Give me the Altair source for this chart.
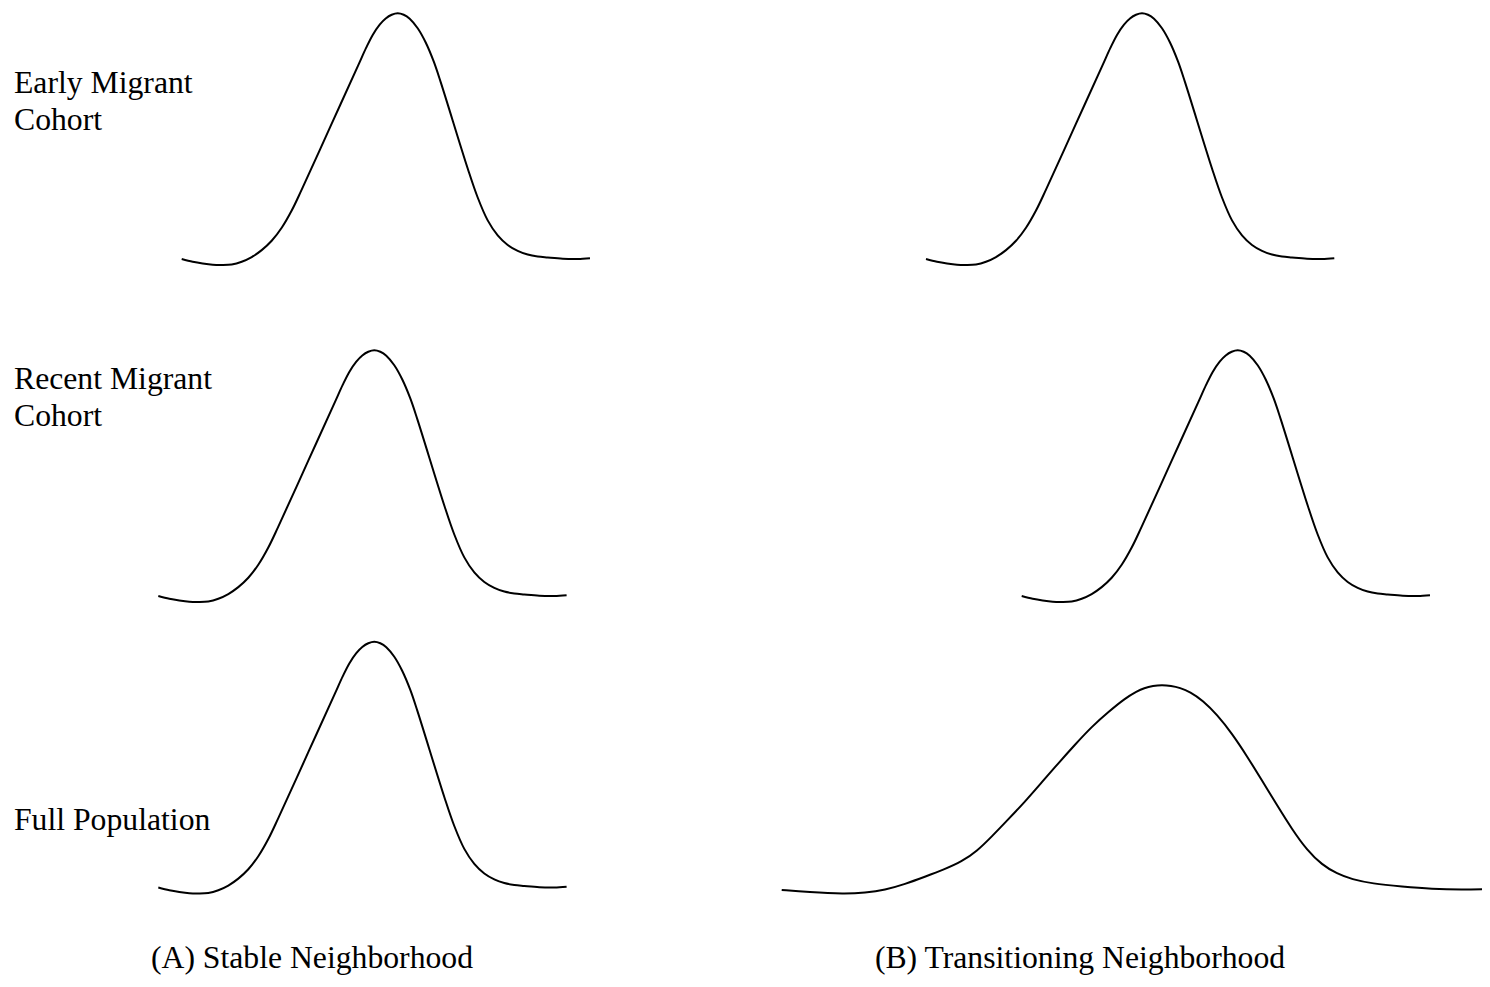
import altair as alt
import pandas as pd

# ---- data -----------------------------------------------------------------
# shape of a narrow cohort distribution: offset from its mode (score units) and relative density
NARROW_DX = [-21.6, -20.5, -19.5, -18.5, -17.6, -16.6, -15.6, -14.6, -13.6, -12.6, -11.6, -10.6,
             -9.6, -6.6, -3.94, -3.16, -2.5, -1.8, -1.2, -0.6, 0.0, 0.6, 1.2, 2.0, 2.8, 3.6,
             4.3, 7.0, 8.0, 9.0, 10.0, 11.0, 12.0, 13.0, 14.0, 15.0, 16.5, 18.0, 19.23]
NARROW_H = [0.0, -0.011, -0.018, -0.023, -0.024, -0.022, -0.011, 0.008, 0.036, 0.074, 0.127,
            0.197, 0.282, 0.55, 0.788, 0.858, 0.911, 0.953, 0.978, 0.993, 0.999, 0.993, 0.977,
            0.938, 0.88, 0.803, 0.719, 0.368, 0.25, 0.157, 0.096, 0.057, 0.033, 0.018, 0.010,
            0.006, 0.001, 0.0, 0.003]

# shape of the wide (mixed) full-population distribution in the transitioning neighborhood
WIDE_DX = [-38.03, -35.37, -31.7, -29.7, -27.7, -25.7, -23.7, -21.8, -20.03, -18.5, -17.03,
           -15.5, -13.7, -12.0, -10.37, -8.7, -7.03, -5.3, -3.7, -2.5, -1.8, -0.9, 0.0, 0.9,
           1.8, 2.8, 4.1, 5.5, 7.0, 8.5, 10.0, 11.5, 13.0, 14.5, 16.0, 17.5, 19.0, 21.0, 24.0,
           27.0, 30.0, 32.63]
WIDE_H = [-0.004, -0.013, -0.020, -0.015, -0.004, 0.020, 0.050, 0.079, 0.111, 0.154, 0.213,
          0.278, 0.355, 0.435, 0.511, 0.587, 0.660, 0.722, 0.775, 0.804, 0.817, 0.826, 0.829,
          0.826, 0.818, 0.802, 0.766, 0.709, 0.632, 0.540, 0.441, 0.341, 0.243, 0.158, 0.098,
          0.062, 0.039, 0.022, 0.010, 0.0, -0.003, 0.0]

ROW_LABELS = [["Early Migrant", "Cohort"], ["Recent Migrant", "Cohort"], ["Full Population"]]
COLUMN_TITLES = ["(A) Stable Neighborhood", "(B) Transitioning Neighborhood"]

# modes of each distribution (score units) per neighborhood, rows: early, recent, full
MODES_A = [38.97, 36.63, 36.63]
MODES_B = [43.4, 52.97, 45.4]
SHAPES_A = ["narrow", "narrow", "narrow"]
SHAPES_B = ["narrow", "narrow", "wide"]

# ---- layout (not data) ------------------------------------------------------
FONT = "Liberation Serif"
FS = 31.7
PX_PER_UNIT = 246.0             # pixels per unit of relative density
ROW_TOPS = [0, 292, 622]        # panel tops relative to chart origin
ROW_H = [292, 330, 280]
ROW_LEVEL = [251, 588, 879.5]   # y of zero density relative to chart origin
LEVEL_B3 = 881.0
COL_W = [700, 774]
COL_DOMAIN = [70.0, 77.4]
LABEL_Y = [85.3, 89.3, 200.0]   # first-line baseline in each panel
TITLE_DX = [-46, -15]


def curve_frame(shape, mode):
    dx, h = (NARROW_DX, NARROW_H) if shape == "narrow" else (WIDE_DX, WIDE_H)
    return pd.DataFrame({"score": [mode + d for d in dx], "density": h})


def panel(col, row, shape, mode):
    level = ROW_LEVEL[row] if not (col == 1 and row == 2) else LEVEL_B3
    top = ROW_TOPS[row]
    hi = (level - top) / PX_PER_UNIT
    lo = hi - ROW_H[row] / PX_PER_UNIT
    line = alt.Chart(curve_frame(shape, mode)).mark_line(
        color="black", strokeWidth=2,
        interpolate="catmull-rom" if shape == "narrow" else "basis",
        clip=(col == 1),
    ).encode(
        x=alt.X("score:Q", axis=None,
                scale=alt.Scale(domain=[0, COL_DOMAIN[col]], nice=False, zero=False)),
        y=alt.Y("density:Q", axis=None,
                scale=alt.Scale(domain=[lo, hi], nice=False, zero=False)),
        order="score:Q",
    )
    layers = [line]
    if col == 0:
        label = alt.Chart(alt.Data(values=[{}])).mark_text(
            text=ROW_LABELS[row], align="left", baseline="alphabetic",
            font=FONT, fontSize=FS, lineHeight=36.5, color="black",
        ).encode(x=alt.value(6), y=alt.value(LABEL_Y[row]))
        layers.append(label)
    return alt.layer(*layers).properties(width=COL_W[col], height=ROW_H[row])


columns = []
for c, (modes, shapes) in enumerate([(MODES_A, SHAPES_A), (MODES_B, SHAPES_B)]):
    panels = [panel(c, r, shapes[r], modes[r]) for r in range(3)]
    columns.append(alt.vconcat(
        *panels, spacing=0, bounds="flush",
        title=alt.TitleParams(
            text=COLUMN_TITLES[c], orient="bottom", anchor="middle",
            font=FONT, fontSize=FS, fontWeight="normal", color="black",
            baseline="alphabetic", offset=58, dx=TITLE_DX[c],
        ),
    ))

chart = alt.hconcat(*columns, spacing=0).properties(
    padding=0, background="white"
).configure_view(stroke=None)

chart.save("out.html", embed_options={"renderer": "svg", "actions": False})
